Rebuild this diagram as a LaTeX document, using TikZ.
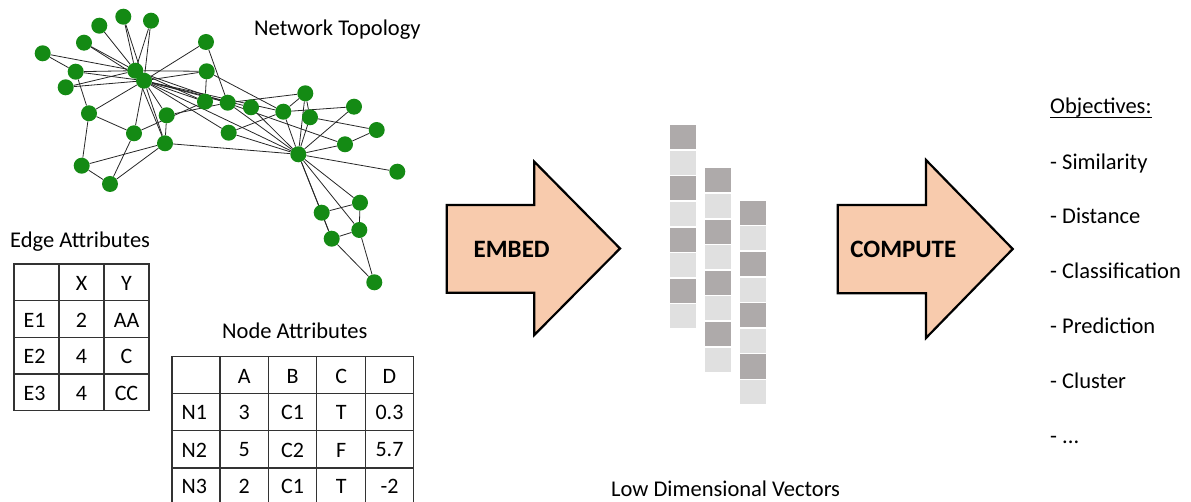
\documentclass[tikz,border=0pt]{standalone}
\usepackage{fontspec}
\setmainfont{Carlito}
\usetikzlibrary{backgrounds}
\definecolor{netgreen}{RGB}{20,138,20}
\definecolor{peach}{RGB}{248,203,173}
\definecolor{celldark}{RGB}{174,170,170}
\definecolor{celllight}{RGB}{224,224,224}
\newcommand{\fsText}{\fontsize{22.5}{27}\selectfont}
\newcommand{\fsTable}{\fontsize{22}{26}\selectfont}
\newcommand{\fsBold}{\fontsize{25}{30}\selectfont\bfseries}
\begin{document}
\begin{tikzpicture}[x=1pt,y=-1pt,
  vtx/.style={circle,fill=netgreen,inner sep=0pt,minimum size=16pt},
  lnk/.style={draw=black!85,line width=0.8pt},
  tabrule/.style={draw=black!80,line width=1.3pt,line cap=rect},
  label text/.style={font=\fsText,inner sep=0pt},
  cell text/.style={font=\fsTable,inner sep=0pt},
  vcell/.style={inner sep=0pt,minimum width=26pt,minimum height=24pt,anchor=north west},
  bigarrow/.style={draw=black,line width=2.2pt,fill=peach,line join=miter},
]
\useasboundingbox (0,0) rectangle (1191,502);
\clip (0,0) rectangle (1191,502);

% ---------------- network topology ----------------
\node[vtx] (h1) at (135.3,70.7) {};
\node[vtx] (h2) at (144,80.7) {};
\node[vtx] (va) at (123.3,16.7) {};
\node[vtx] (vb) at (99.3,25.7) {};
\node[vtx] (vc) at (151,20.7) {};
\node[vtx] (vd) at (84,42.7) {};
\node[vtx] (ve) at (42.7,53.3) {};
\node[vtx] (vf) at (206,42) {};
\node[vtx] (vg) at (75.7,71.7) {};
\node[vtx] (vh) at (65.7,87.3) {};
\node[vtx] (vi) at (206.7,71.3) {};
\node[vtx] (vj) at (89,113.3) {};
\node[vtx] (vk) at (166.7,115.3) {};
\node[vtx] (vl) at (205,101.7) {};
\node[vtx] (vm) at (227.7,102.7) {};
\node[vtx] (vn) at (134,133.3) {};
\node[vtx] (vo) at (165,143.3) {};
\node[vtx] (vp) at (228.7,132.7) {};
\node[vtx] (vq) at (81.7,165.7) {};
\node[vtx] (vr) at (110,184) {};
\node[vtx] (vs) at (251,107.3) {};
\node[vtx] (vt) at (283.3,111.7) {};
\node[vtx] (vu) at (305.3,93.3) {};
\node[vtx] (vv) at (310,117.3) {};
\node[vtx] (vw) at (354,106.7) {};
\node[vtx] (vx) at (376.7,130) {};
\node[vtx] (vy) at (345,144.3) {};
\node[vtx] (hz) at (298.3,154.3) {};
\node[vtx] (vz) at (397.3,171.7) {};
\node[vtx] (vaa) at (360,202.7) {};
\node[vtx] (vbb) at (321.7,212.7) {};
\node[vtx] (vcc) at (359.3,230) {};
\node[vtx] (vdd) at (331.7,238.7) {};
\node[vtx] (vee) at (374.3,282.3) {};

\begin{pgfonlayer}{background}
\foreach \p/\q in {h1/h2, va/h1, va/h2, vb/h1, vc/h1, vc/h2, vd/h1, vd/h2,
    ve/h1, vg/h1, vg/h2, vh/h1, vh/h2, vf/h2, vi/h1, vi/h2, vj/h2, vk/h2,
    vn/h2, vo/h1, vo/h2, vl/h1, vl/h2, vm/h2, vs/h2, vt/h2, vp/h2, hz/h2, vy/h1,
    ve/vg, vg/vj, vj/vn, vj/vq, vk/vo, vk/vm, vn/vl, vn/vr, vo/vq, vo/vr,
    vo/hz, vq/vr, vf/vm, vi/vl, vi/vt, vm/vu, vp/vt, vp/hz, vt/vu, vu/vv,
    vt/hz, vu/hz, vv/hz, vt/vw, vw/hz, vv/vx, vx/vy, vy/hz, vz/hz, vs/hz, vm/hz,
    hz/vbb, hz/vdd, hz/vaa, hz/vcc, vbb/vaa, vaa/vcc, vbb/vdd, vcc/vdd,
    vdd/vee, vcc/vee}
  \draw[lnk] (\p) -- (\q);
\end{pgfonlayer}

\node[label text,anchor=base west] (nettitle) at (254,35.5) {Network Topology};

% ---------------- edge attribute table ----------------
\node[label text,anchor=base west] (edgetitle) at (10,247.3) {Edge Attributes};
\foreach \xx in {14,59,104,149} \draw[tabrule] (\xx,264) -- (\xx,410.7);
\foreach \yy in {264,300.7,337.3,374,410.7} \draw[tabrule] (14,\yy) -- (149,\yy);
\node[cell text] (ehx) at (81.5,283) {X};
\node[cell text] (ehy) at (126.5,283) {Y};
\node[cell text,anchor=west] (er1) at (23.5,320) {E1};
\node[cell text,anchor=west] (er2) at (23.5,356.7) {E2};
\node[cell text,anchor=west] (er3) at (23.5,393.3) {E3};
\node[cell text] (e1x) at (81.5,320) {2};
\node[cell text] (e1y) at (126.5,320) {AA};
\node[cell text] (e2x) at (81.5,356.7) {4};
\node[cell text] (e2y) at (126.5,356.7) {C};
\node[cell text] (e3x) at (81.5,393.3) {4};
\node[cell text] (e3y) at (126.5,393.3) {CC};

% ---------------- node attribute table ----------------
\node[label text,anchor=base west] (nodetitle) at (222,338.3) {Node Attributes};
\foreach \xx in {172,220,268.3,316.7,365.7,413.3} \draw[tabrule] (\xx,356.7) -- (\xx,505);
\foreach \yy in {356.7,393.3,430.7,468,505} \draw[tabrule] (172,\yy) -- (413.3,\yy);
\node[cell text] (nha) at (244.2,376.5) {A};
\node[cell text] (nhb) at (292.5,376.5) {B};
\node[cell text] (nhc) at (341.2,376.5) {C};
\node[cell text] (nhd) at (389.5,376.5) {D};
\node[cell text,anchor=west] (nr1) at (181.5,412.7) {N1};
\node[cell text,anchor=west] (nr2) at (181.5,450) {N2};
\node[cell text,anchor=west] (nr3) at (181.5,486.7) {N3};
\node[cell text] (n1a) at (244.2,412.7) {3};
\node[cell text] (n1b) at (292.5,412.7) {C1};
\node[cell text] (n1c) at (341.2,412.7) {T};
\node[cell text] (n1d) at (389.5,412.7) {0.3};
\node[cell text] (n2a) at (244.2,450) {5};
\node[cell text] (n2b) at (292.5,450) {C2};
\node[cell text] (n2c) at (341.2,450) {F};
\node[cell text] (n2d) at (389.5,450) {5.7};
\node[cell text] (n3a) at (244.2,486.7) {2};
\node[cell text] (n3b) at (292.5,486.7) {C1};
\node[cell text] (n3c) at (341.2,486.7) {T};
\node[cell text] (n3d) at (389.5,486.7) {-2};

% ---------------- EMBED arrow ----------------
\draw[bigarrow] (446.7,205) -- (534.3,205) -- (534.3,161.7) -- (620,248.5)
  -- (534.3,335) -- (534.3,292.7) -- (446.7,292.7) -- cycle;
\node[font=\fsBold,inner sep=0pt] (embed) at (511.7,249) {EMBED};

% ---------------- embedding vectors ----------------
\foreach \col/\x/\y in {1/670/125, 2/704.7/168.3, 3/739.7/200.7}{
  \foreach \i in {0,...,7}{
    \pgfmathsetmacro{\yy}{\y+25.6*\i}
    \ifodd\i
      \node[vcell,fill=celllight] (cell\col-\i) at (\x,\yy) {};
    \else
      \node[vcell,fill=celldark] (cell\col-\i) at (\x,\yy) {};
    \fi
  }
}
\node[label text,anchor=base west] (vectitle) at (611,496) {Low Dimensional Vectors};

% ---------------- COMPUTE arrow ----------------
\draw[bigarrow] (837.7,205) -- (926,205) -- (926,160) -- (1012.7,249)
  -- (926,338) -- (926,293.3) -- (837.7,293.3) -- cycle;
\node[font=\fsBold,inner sep=0pt] (compute) at (903.3,249) {COMPUTE};

% ---------------- objectives ----------------
\node[label text,anchor=base west] (obj) at (1050,113.5) {Objectives:};
\draw[line width=1.3pt] ([yshift=-3.8pt]obj.base west) -- ([yshift=-3.8pt]obj.base east);
\node[label text,anchor=base west] (o1) at (1050,170) {- Similarity};
\node[label text,anchor=base west] (o2) at (1050,224) {- Distance};
\node[label text,anchor=base west] (o3) at (1050,278.5) {- Classification};
\node[label text,anchor=base west] (o4) at (1050,333.5) {- Prediction};
\node[label text,anchor=base west] (o5) at (1050,388.5) {- Cluster};
\node[label text,anchor=base west] (o6) at (1050,443.5) {- ...};
\end{tikzpicture}
\end{document}
